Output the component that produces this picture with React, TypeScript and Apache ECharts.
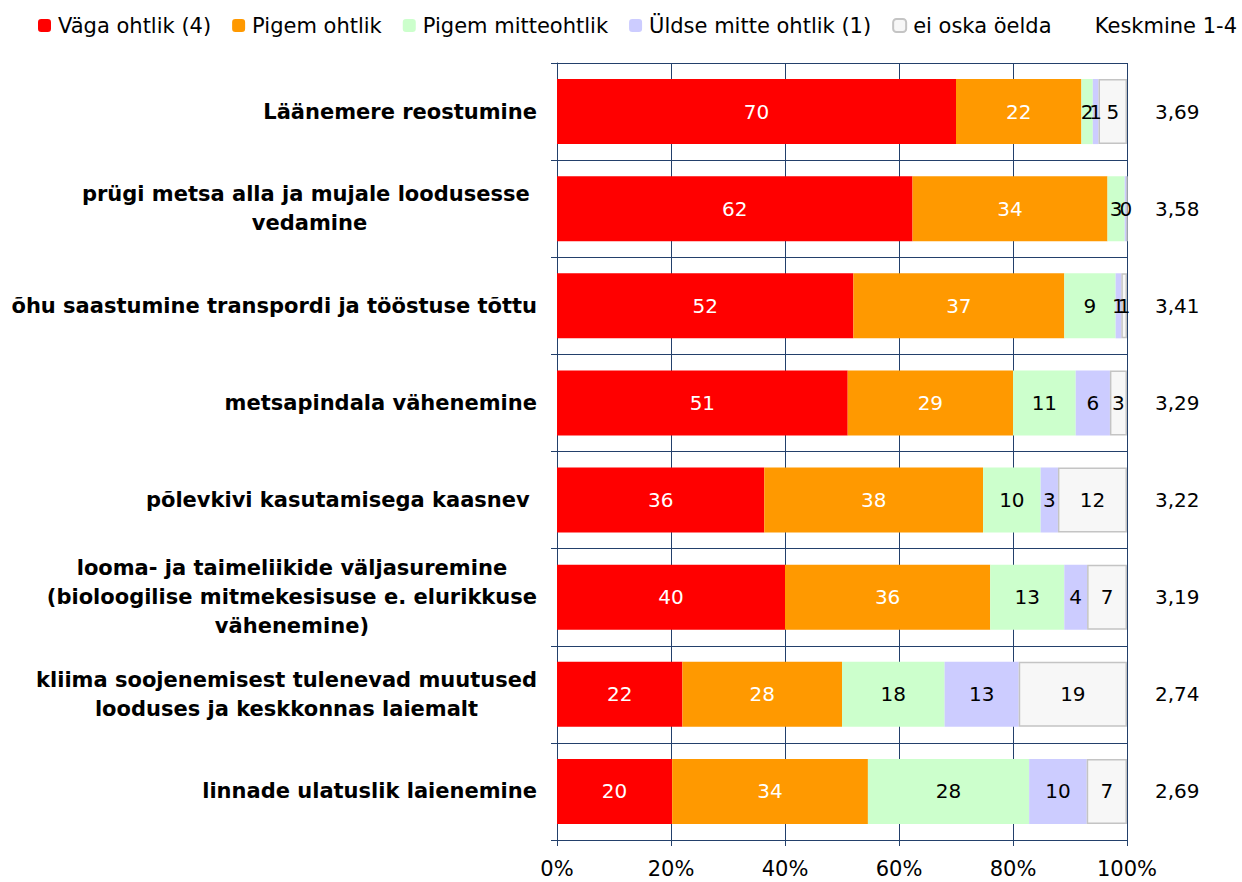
import React, { useEffect, useRef } from "react";
import * as echarts from "echarts";

const categories = [
  "Läänemere reostumine",
  "prügi metsa alla ja mujale loodusesse \nvedamine",
  "õhu saastumine transpordi ja tööstuse tõttu",
  "metsapindala vähenemine",
  "põlevkivi kasutamisega kaasnev ",
  "looma- ja taimeliikide väljasuremine\n(bioloogilise mitmekesisuse e. elurikkuse\nvähenemine)",
  "kliima soojenemisest tulenevad muutused\nlooduses ja keskkonnas laiemalt",
  "linnade ulatuslik laienemine",
];

const seriesNames = [
  "Väga ohtlik (4)",
  "Pigem ohtlik",
  "Pigem mitteohtlik",
  "Üldse mitte ohtlik (1)",
  "ei oska öelda",
];

const vagaOhtlik = [70, 62, 52, 51, 36, 40, 22, 20];
const pigemOhtlik = [22, 34, 37, 29, 38, 36, 28, 34];
const pigemMitteohtlik = [2, 3, 9, 11, 10, 13, 18, 28];
const uldseMitteOhtlik = [1, 0.4, 1, 6, 3, 4, 13, 10];
const eiOskaOelda = [5, 0, 1, 3, 12, 7, 19, 7];

const averages = [3.69, 3.58, 3.41, 3.29, 3.22, 3.19, 2.74, 2.69];

const xTicks = [0, 20, 40, 60, 80, 100];

const colors = ["#ff0000", "#ff9900", "#ccffcc", "#ccccff", "#f7f7f7"];
const labelColors = ["#ffffff", "#ffffff", "#000000", "#000000", "#000000"];

const NAVY = "#23406b";
const FONT = "DejaVu Sans";

export default function App() {
  const ref = useRef<HTMLDivElement>(null);

  useEffect(() => {
    document.body.style.margin = "0";
    if (!ref.current) return;
    const chart = echarts.init(ref.current, undefined, { renderer: "svg" });

    const raw = [vagaOhtlik, pigemOhtlik, pigemMitteohtlik, uldseMitteOhtlik, eiOskaOelda];
    const totals = categories.map((_, i) => raw.reduce((s, arr) => s + arr[i], 0));

    const series = raw.map((arr, si) => ({
      name: seriesNames[si],
      type: "bar",
      stack: "total",
      yAxisIndex: 0,
      barCategoryGap: "33%",
      data: arr.map((v, i) => ({ value: (v / totals[i]) * 100, raw: v })),
      itemStyle:
        si === 4
          ? { color: colors[si], borderColor: "#c4c4c4", borderWidth: 1.5 }
          : { color: colors[si] },
      label: {
        show: true,
        position: "inside",
        color: labelColors[si],
        fontFamily: FONT,
        fontSize: 20,
        formatter: (p: any) => (p.data.raw === 0 && si === 4 ? "" : String(Math.round(p.data.raw))),
      },
      emphasis: { disabled: true },
    }));

    chart.setOption({
      animation: false,
      backgroundColor: "#ffffff",
      textStyle: { fontFamily: FONT },
      legend: {
        data: seriesNames,
        left: 33,
        top: 10,
        itemWidth: 13,
        itemHeight: 13,
        itemGap: 21,
        textStyle: { fontFamily: FONT, fontSize: 21, color: "#000", padding: [0, 0, 0, 2] },
        selectedMode: false,
      },
      graphic: [
        {
          type: "text",
          right: 5,
          top: 15,
          style: { text: "Keskmine 1-4", fontFamily: FONT, fontSize: 21, fill: "#000" },
        },
      ],
      grid: { left: 557, right: 115, top: 63, bottom: 42, containLabel: false },
      xAxis: {
        type: "value",
        min: xTicks[0],
        max: xTicks[xTicks.length - 1],
        interval: xTicks[1] - xTicks[0],
        axisLine: { show: true, lineStyle: { color: NAVY, width: 1 } },
        axisTick: { show: true, length: 6, lineStyle: { color: NAVY } },
        splitLine: { show: true, lineStyle: { color: NAVY, width: 1 } },
        axisLabel: {
          formatter: "{value}%",
          fontFamily: FONT,
          fontSize: 21,
          color: "#000",
          margin: 18,
        },
      },
      yAxis: [
        {
          type: "category",
          inverse: true,
          data: categories,
          axisLine: { show: true, lineStyle: { color: NAVY, width: 1 } },
          axisTick: { show: true, length: 6, lineStyle: { color: NAVY } },
          splitLine: { show: true, lineStyle: { color: NAVY, width: 1 } },
          axisLabel: {
            margin: 20,
            formatter: (v: string) =>
              v
                .split("\n")
                .map((l) => "{c|" + l + "}")
                .join("\n"),
            rich: {
              c: {
                align: "center",
                fontFamily: FONT,
                fontWeight: "bold",
                fontSize: 21,
                color: "#000",
                lineHeight: 29,
              },
            },
          },
        },
        {
          type: "category",
          inverse: true,
          position: "right",
          data: averages.map((a) => a.toFixed(2).replace(".", ",")),
          axisLine: { show: false },
          axisTick: { show: false },
          splitLine: { show: false },
          axisLabel: { margin: 28, fontFamily: FONT, fontSize: 20, color: "#000" },
        },
      ],
      series,
    });

    return () => chart.dispose();
  }, []);

  return <div ref={ref} style={{ width: 1242, height: 882 }} />;
}
